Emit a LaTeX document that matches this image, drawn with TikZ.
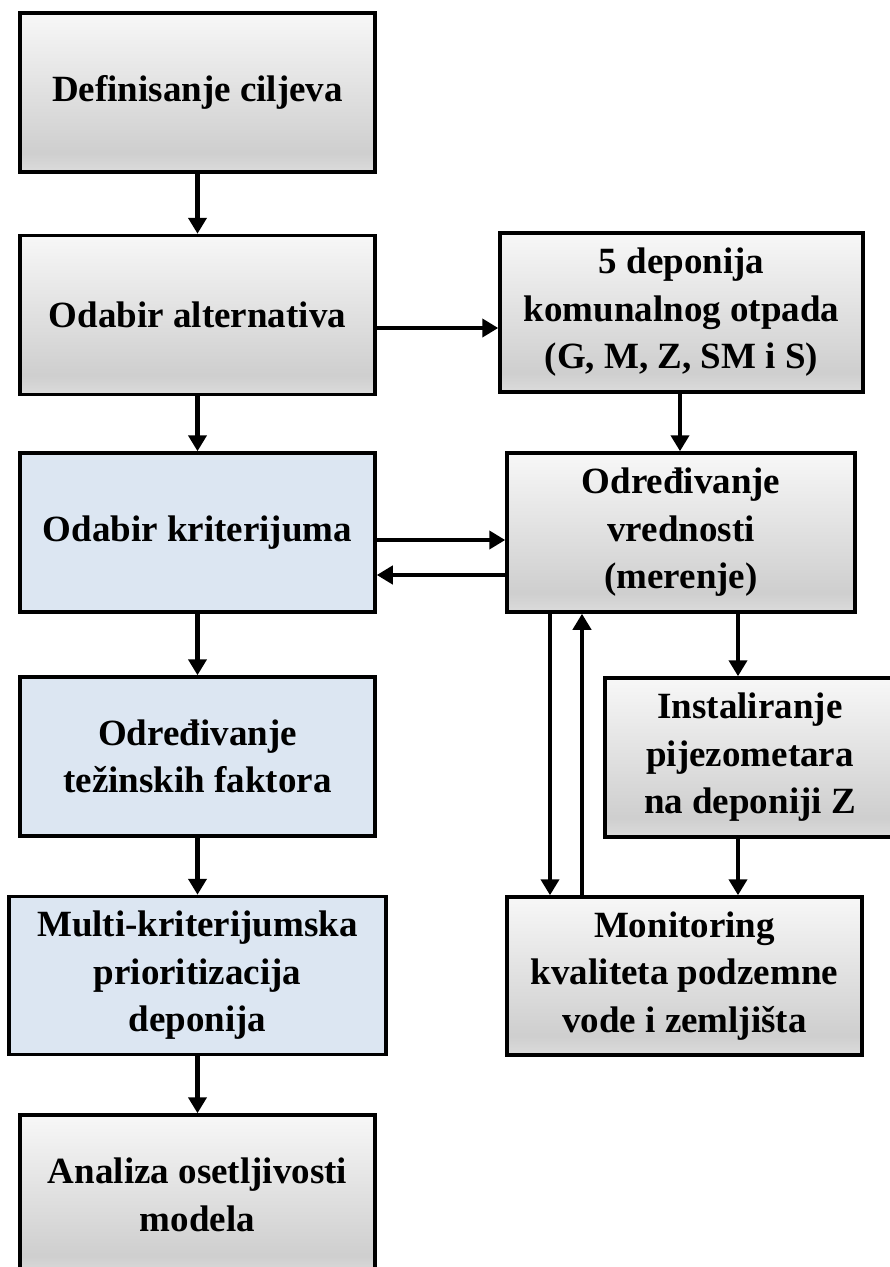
\documentclass[tikz,border=0pt]{standalone}
\usepackage{fontspec}
\setmainfont{Liberation Serif}
\usetikzlibrary{arrows.meta}

\definecolor{lightblue}{RGB}{220,230,242}
\pgfdeclareverticalshading{boxgray}{100bp}{color(0bp)=(black!14); color(25bp)=(black!14);
    color(31bp)=(black!19); color(75bp)=(black!3); color(100bp)=(black!3)}

\begin{document}
\begin{tikzpicture}[x=1pt, y=-1pt,
        box/.style={draw, line width=3.5pt, align=center, inner sep=0pt,
            minimum width=355pt, minimum height=159pt,
            font=\fontsize{37}{47.5}\selectfont\bfseries},
        graybox/.style={box, shading=boxgray},
        bluebox/.style={box, fill=lightblue},
        arr/.style={line width=4.5pt, -{Triangle[length=16pt, width=18pt]}}]
        \useasboundingbox (0,0) rectangle (890,1267);
        \clip (0,0) rectangle (890,1267);
        % left column
        \node [graybox] (ciljevi) at (197.5,92.5) {Definisanje ciljeva};
        \node [graybox] (alternative) at (197.5,315) {Odabir alternativa};
        \node [bluebox] (kriterijumi) at (197.5,532.5) {Odabir kriterijuma};
        \node [bluebox] (tezine) at (197.5,756.5) {Odre\dj ivanje\\te\v zinskih faktora};
        \node [bluebox, minimum width=377pt, minimum height=158pt] (prioritizacija)
            at (197.5,975.5) {Multi-kriterijumska\\prioritizacija\\deponija};
        \node [graybox, minimum height=160pt] (osetljivost) at (197.5,1195)
            {Analiza osetljivosti\\modela};
        % right column
        \node [graybox, minimum width=363pt] (deponije) at (681.5,312.5)
            {5 deponija\\komunalnog otpada\\(G, M, Z, SM i S)};
        \node [graybox, minimum width=348pt] (vrednosti) at (681,532.5)
            {Odre\dj ivanje\\vrednosti\\(merenje)};
        \node [graybox, minimum width=290pt] (pijezometri) at (750,757.5)
            {Instaliranje\\pijezometara\\na deponiji Z};
        \node [graybox, minimum height=158pt] (monitoring) at (684.5,976)
            {Monitoring\\kvaliteta podzemne\\vode i zemlji\v sta};

        \draw [arr] (ciljevi) -- (alternative);
        \draw [arr] (alternative) -- (kriterijumi);
        \draw [arr] (kriterijumi) -- (tezine);
        \draw [arr] (tezine) -- (prioritizacija);
        \draw [arr] (prioritizacija) -- (osetljivost);
        \draw [arr] ([yshift=-13pt]alternative.east) -- ([yshift=-13pt]alternative.east -| deponije.west);
        \draw [arr] ([xshift=-1.5pt]deponije.south) -- ([xshift=-1.5pt]deponije.south |- vrednosti.north);
        \draw [arr] ([yshift=-7.5pt]kriterijumi.east) -- ([yshift=-7.5pt]kriterijumi.east -| vrednosti.west);
        \draw [arr] ([yshift=-42.5pt]vrednosti.west) -- ([yshift=-42.5pt]vrednosti.west -| kriterijumi.east);
        \draw [arr] ([xshift=-131pt]vrednosti.south) -- ([xshift=-131pt]vrednosti.south |- monitoring.north);
        \draw [arr] ([xshift=-99pt]monitoring.north -| vrednosti.south) -- ([xshift=-99pt]vrednosti.south);
        \draw [arr] ([xshift=57pt]vrednosti.south) -- ([xshift=57pt]vrednosti.south |- pijezometri.north);
        \draw [arr] (pijezometri.south -| 738,0) -- (monitoring.north -| 738,0);
    \end{tikzpicture}
\end{document}
